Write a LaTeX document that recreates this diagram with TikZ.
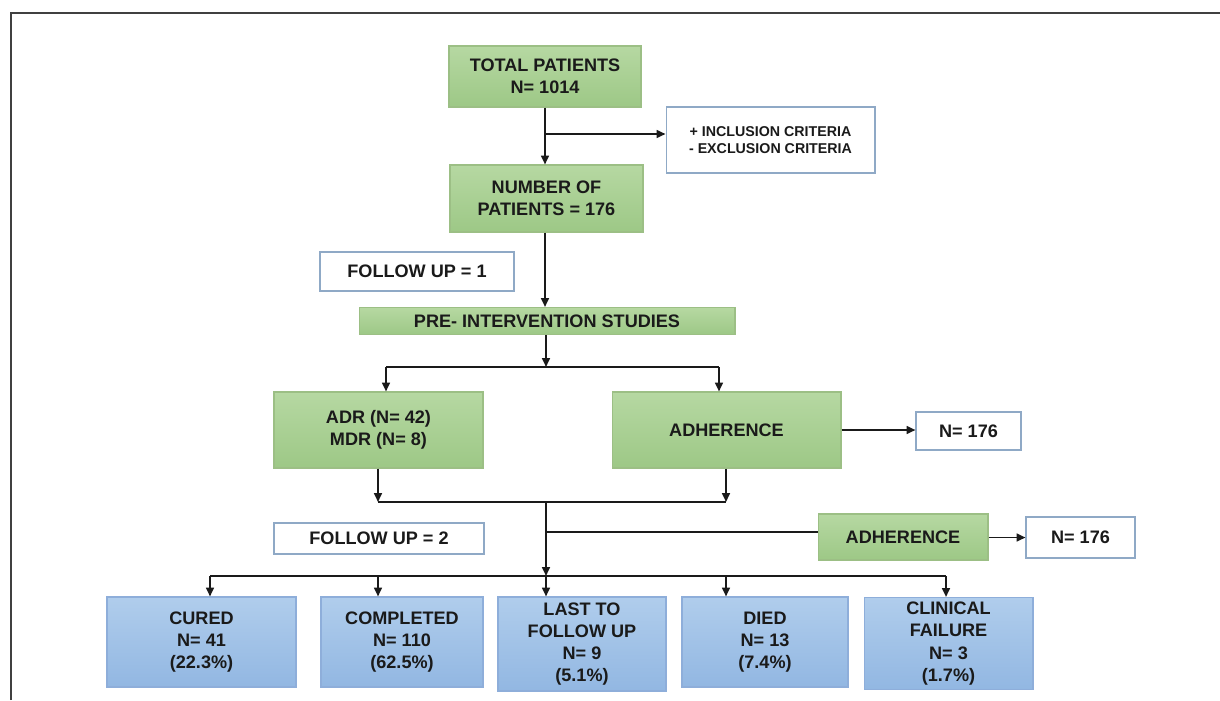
\documentclass[tikz,border=0pt]{standalone}
\usepackage{fontspec}
\setmainfont{Liberation Sans}
\usetikzlibrary{arrows.meta}

\definecolor{greentop}{HTML}{B6D8A2}
\definecolor{greenbot}{HTML}{9DC886}
\definecolor{greenline}{HTML}{9CBF85}
\definecolor{bluetop}{HTML}{B0CDEC}
\definecolor{bluebot}{HTML}{92B7E2}
\definecolor{blueline}{HTML}{8EAEDA}
\definecolor{whiteline}{HTML}{8FA9C6}
\definecolor{inkblack}{HTML}{1A1A1A}

\begin{document}
\begin{tikzpicture}[x=0.02cm,y=-0.02cm,
    font=\bfseries\fontsize{10.3}{12.6}\selectfont, text=inkblack,
    greenbox/.style={draw=greenline, line width=0.6pt, top color=greentop, bottom color=greenbot, align=center, inner sep=0pt},
    bluebox/.style={draw=blueline, line width=0.6pt, top color=bluetop, bottom color=bluebot, align=center, inner sep=0pt},
    whitebox/.style={draw=whiteline, line width=0.6pt, fill=white, align=center, inner sep=0pt},
    arr/.style={-{Triangle[length=5pt,width=4.4pt]}, line width=1.1pt, draw=inkblack},
    link/.style={line width=1.1pt, draw=inkblack}]
                \useasboundingbox (0,0) rectangle (1220,700);

                % Frame
                \draw[line width=1.3pt, draw=black!75] (11,700)--(11,13)--(1220,13);

                % Boxes
                \node[greenbox, minimum width=3.84cm, minimum height=1.22cm] (total) at (545,76.5) {TOTAL PATIENTS\\N= 1014};
                \node[whitebox, minimum width=4.18cm, minimum height=1.32cm, font=\bfseries\fontsize{8.1}{9.8}\selectfont] (crit) at (770.5,140) {+ INCLUSION CRITERIA\\- EXCLUSION CRITERIA};
                \node[greenbox, minimum width=3.86cm, minimum height=1.34cm] (number) at (546.5,198.5) {NUMBER OF\\PATIENTS = 176};
                \node[whitebox, minimum width=3.88cm, minimum height=0.78cm] (followA) at (417,271.5) {FOLLOW UP = 1};
                \node[greenbox, minimum width=7.52cm, minimum height=0.54cm] (pre) at (547,321) {PRE- INTERVENTION STUDIES};
                \node[greenbox, minimum width=4.18cm, minimum height=1.52cm] (adr) at (378.5,430) {ADR (N= 42)\\MDR (N= 8)};
                \node[greenbox, minimum width=4.58cm, minimum height=1.52cm] (adhA) at (726.5,430) {ADHERENCE};
                \node[whitebox, minimum width=2.10cm, minimum height=0.76cm] (nA) at (968.5,431) {N= 176};
                \node[whitebox, minimum width=4.20cm, minimum height=0.62cm] (followB) at (379,538.5) {FOLLOW UP = 2};
                \node[greenbox, minimum width=3.40cm, minimum height=0.92cm] (adhB) at (903,537) {ADHERENCE};
                \node[whitebox, minimum width=2.18cm, minimum height=0.82cm] (nB) at (1080.5,537.5) {N= 176};

                % Outcomes
                \node[bluebox, minimum width=3.78cm, minimum height=1.80cm] (cured) at (201.5,642) {CURED\\N= 41\\(22.3\%)};
                \node[bluebox, minimum width=3.24cm, minimum height=1.80cm] (completed) at (402,642) {COMPLETED\\N= 110\\(62.5\%)};
                \node[bluebox, minimum width=3.36cm, minimum height=1.88cm] (lost) at (582,644) {LAST TO\\FOLLOW UP\\N= 9\\(5.1\%)};
                \node[bluebox, minimum width=3.32cm, minimum height=1.80cm] (died) at (765,642) {DIED\\N= 13\\(7.4\%)};
                \node[bluebox, minimum width=3.38cm, minimum height=1.84cm] (failure) at (948.5,643.5) {CLINICAL\\FAILURE\\N= 3\\(1.7\%)};

                % Junctions
                \coordinate (critJ) at (545,134);
                \coordinate (splitJ) at (546,367);
                \coordinate (splitL) at (386,367);
                \coordinate (splitR) at (719,367);
                \coordinate (mergeL) at (378,502);
                \coordinate (mergeR) at (726,502);
                \coordinate (mergeJ) at (546,502);
                \coordinate (adhJ) at (546,532);
                \coordinate (outJ) at (546,576);
                \coordinate (outL) at (210,576);
                \coordinate (outC) at (378,576);
                \coordinate (outD) at (726,576);
                \coordinate (outR) at (946,576);

                % Top part
                \draw[arr] (total.south -| critJ)--(number.north -| critJ);
                \draw[arr] (critJ)--(critJ -| crit.west);
                \draw[arr] (number.south -| critJ)--(pre.north -| critJ);
                \draw[arr] (pre.south -| splitJ)--(splitJ);
                \draw[link] (splitL)--(splitR);
                \draw[arr] (splitL)--(splitL |- adr.north);
                \draw[arr] (splitR)--(splitR |- adhA.north);
                \draw[arr] (adhA.east)--(adhA.east -| nA.west);

                % Merge
                \draw[arr] (mergeL |- adr.south)--(mergeL);
                \draw[arr] (mergeR |- adhA.south)--(mergeR);
                \draw[link] (mergeL)--(mergeR);
                \draw[arr] (mergeJ)--(outJ);
                \draw[link] (adhJ)--(adhJ -| adhB.west);
                \draw[arr] (adhB.east |- nB.west)--(nB.west);

                % Outcomes
                \draw[link] (outL)--(outR);
                \draw[arr] (outL)--(outL |- cured.north);
                \draw[arr] (outC)--(outC |- completed.north);
                \draw[arr] (outJ)--(outJ |- lost.north);
                \draw[arr] (outD)--(outD |- died.north);
                \draw[arr] (outR)--(outR |- failure.north);
            \end{tikzpicture}
\end{document}
